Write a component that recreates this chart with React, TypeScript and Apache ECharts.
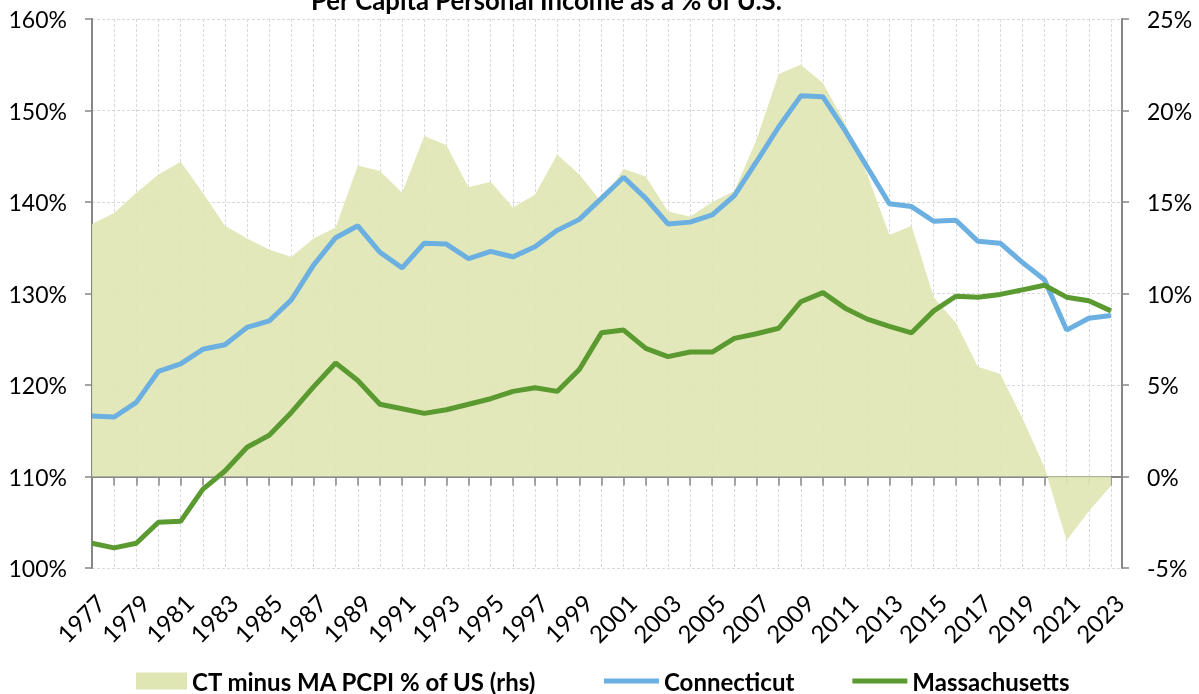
import React, { useEffect, useRef } from "react";
import * as echarts from "echarts";

const years = [
  1977, 1978, 1979, 1980, 1981, 1982, 1983, 1984, 1985, 1986, 1987, 1988, 1989, 1990, 1991, 1992,
  1993, 1994, 1995, 1996, 1997, 1998, 1999, 2000, 2001, 2002, 2003, 2004, 2005, 2006, 2007, 2008,
  2009, 2010, 2011, 2012, 2013, 2014, 2015, 2016, 2017, 2018, 2019, 2020, 2021, 2022, 2023,
];

const connecticut = [
  116.6, 116.5, 118.1, 121.5, 122.3, 123.9, 124.4, 126.3, 127.0, 129.3, 133.1, 136.1, 137.4, 134.5,
  132.8, 135.5, 135.4, 133.8, 134.6, 134.0, 135.1, 136.9, 138.1, 140.4, 142.7, 140.4, 137.6, 137.8,
  138.6, 140.7, 144.4, 148.2, 151.6, 151.5, 147.8, 143.8, 139.8, 139.5, 137.9, 138.0, 135.7, 135.5,
  133.4, 131.5, 126.0, 127.3, 127.6,
];

const massachusetts = [
  102.7, 102.2, 102.7, 105.0, 105.1, 108.6, 110.6, 113.2, 114.5, 117.0, 119.8, 122.4, 120.5, 117.9,
  117.4, 116.9, 117.3, 117.9, 118.5, 119.3, 119.7, 119.3, 121.7, 125.7, 126.0, 124.0, 123.1, 123.6,
  123.6, 125.1, 125.6, 126.2, 129.1, 130.1, 128.4, 127.2, 126.4, 125.7, 128.1, 129.7, 129.6, 129.9,
  130.4, 130.9, 129.6, 129.2, 128.1,
];

const ctMinusMa = [
  13.8, 14.4, 15.5, 16.5, 17.2, 15.5, 13.7, 13.0, 12.4, 12.0, 13.0, 13.6, 17.0, 16.7, 15.5, 18.6,
  18.1, 15.8, 16.1, 14.7, 15.4, 17.6, 16.5, 15.0, 16.8, 16.4, 14.5, 14.2, 15.0, 15.6, 18.4, 22.0,
  22.5, 21.5, 19.3, 16.5, 13.2, 13.7, 9.8, 8.4, 6.0, 5.6, 3.2, 0.5, -3.5, -1.9, -0.5,
];

const seriesNames = ["CT minus MA PCPI % of US (rhs)", "Connecticut", "Massachusetts"];
const title = "Per Capita Personal Income as a % of U.S.";

const FONT = "Lato";

export default function App() {
  const ref = useRef<HTMLDivElement>(null);
  useEffect(() => {
    if (!ref.current) return;
    const chart = echarts.init(ref.current, undefined, { renderer: "svg" });
    const gridLine = { show: true, lineStyle: { color: "#d9d9d9", type: [3, 2] as any, width: 1 } };
    const legendText = { fontFamily: FONT, fontWeight: "bold" as const, fontSize: 24, color: "#000" };
    chart.setOption({
      animation: false,
      title: {
        text: title,
        left: 306,
        top: -18,
        textStyle: { fontFamily: FONT, fontWeight: "bold", fontSize: 25.7, color: "#000" },
      },
      grid: { left: 92, right: 77, top: 19, bottom: 126, containLabel: false },
      legend: [
        {
          data: [seriesNames[0]],
          left: 136,
          top: 669,
          padding: 0,
          icon: "rect",
          itemWidth: 51,
          itemHeight: 17,
          itemGap: 5,
          textStyle: legendText,
        },
        {
          data: [seriesNames[1], seriesNames[2]],
          left: 604,
          top: 669,
          padding: 0,
          icon: "rect",
          itemWidth: 55,
          itemHeight: 5,
          itemGap: 58,
          textStyle: legendText,
        },
      ],
      xAxis: {
        type: "value",
        min: 1977,
        max: 2023.5,
        interval: 1,
        axisLine: { show: true, lineStyle: { color: "#868686", width: 2 } },
        axisTick: { show: true, length: 9, lineStyle: { color: "#868686", width: 1.5 } },
        axisLabel: {
          rotate: 45,
          margin: 22,
          verticalAlign: "top",
          fontFamily: FONT,
          fontSize: 24,
          color: "#000",
          showMaxLabel: false,
          formatter: (v: number) => (Number.isInteger(v) && (v - 1977) % 2 === 0 ? String(v) : ""),
        },
        splitLine: gridLine,
      },
      yAxis: [
        {
          type: "value",
          min: 100,
          max: 160,
          interval: 10,
          position: "left",
          axisLine: { show: true, lineStyle: { color: "#868686", width: 2 } },
          axisTick: { show: true, length: 7, lineStyle: { color: "#868686", width: 1.5 } },
          axisLabel: {
            margin: 25,
            fontFamily: FONT,
            fontSize: 23,
            color: "#000",
            formatter: (v: number) => v + "%",
          },
          splitLine: gridLine,
        },
        {
          type: "value",
          min: -5,
          max: 25,
          interval: 5,
          position: "right",
          axisLine: { show: true, lineStyle: { color: "#868686", width: 2 } },
          axisTick: { show: true, length: 7, lineStyle: { color: "#868686", width: 1.5 } },
          axisLabel: {
            margin: 25,
            fontFamily: FONT,
            fontSize: 23,
            color: "#000",
            formatter: (v: number) => v + "%",
          },
          splitLine: { show: false },
        },
      ],
      series: [
        {
          name: seriesNames[0],
          type: "line",
          yAxisIndex: 1,
          data: years.map((y, i) => [y, ctMinusMa[i]]),
          symbol: "none",
          color: "#dfe6b4",
          lineStyle: { width: 0 },
          areaStyle: { color: "#dfe6b4", opacity: 0.92 },
          z: 1,
        },
        {
          name: seriesNames[1],
          type: "line",
          yAxisIndex: 0,
          data: years.map((y, i) => [y, connecticut[i]]),
          symbol: "none",
          color: "#6cb0e2",
          lineStyle: { width: 5, color: "#6cb0e2" },
          z: 3,
        },
        {
          name: seriesNames[2],
          type: "line",
          yAxisIndex: 0,
          data: years.map((y, i) => [y, massachusetts[i]]),
          symbol: "none",
          color: "#5b9a30",
          lineStyle: { width: 5, color: "#5b9a30" },
          z: 4,
        },
      ],
    });
    return () => chart.dispose();
  }, []);
  return <div ref={ref} style={{ width: 1199, height: 694, position: "fixed", left: 0, top: 0 }} />;
}
